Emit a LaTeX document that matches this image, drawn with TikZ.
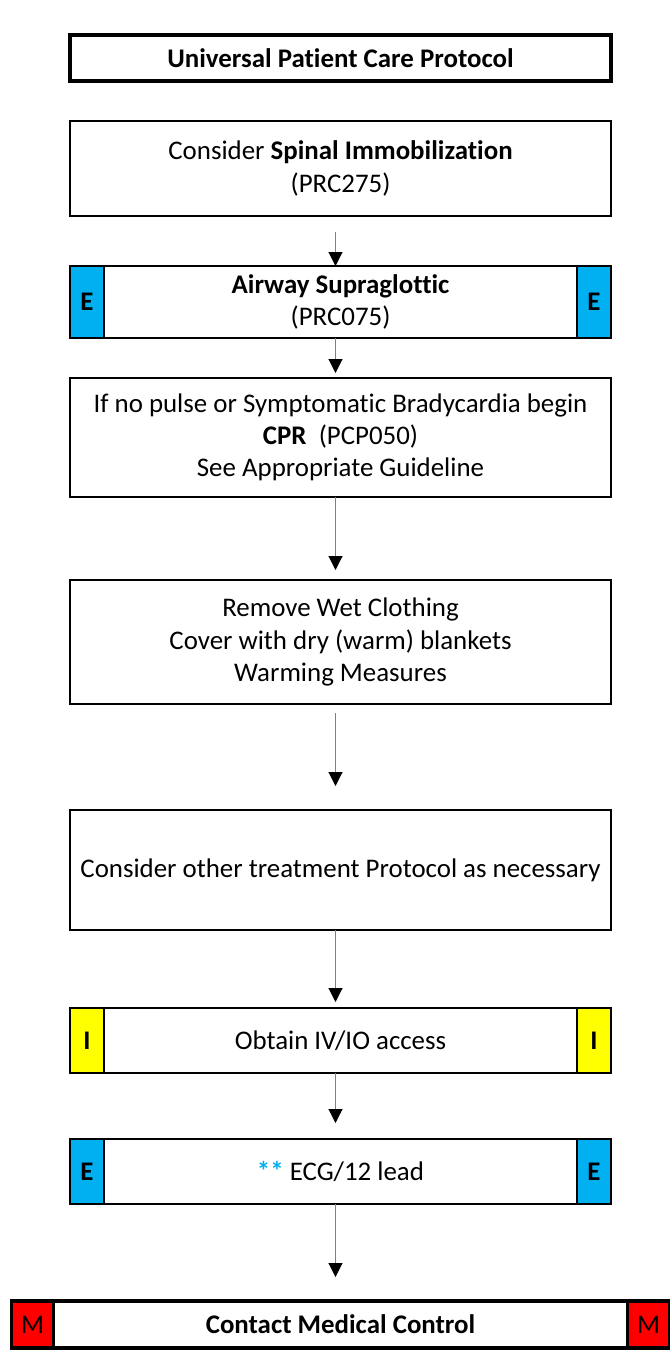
\documentclass[tikz,border=0pt]{standalone}
\usepackage{fontspec}
\setmainfont{Carlito}[Ligatures=NoCommon]
\usetikzlibrary{arrows.meta,positioning}
\definecolor{tabblue}{RGB}{0,176,240}
\definecolor{tabyellow}{RGB}{255,255,0}
\definecolor{tabred}{RGB}{255,0,0}
\definecolor{arrowgray}{RGB}{128,128,128}

\begin{document}
\begin{tikzpicture}[
  node distance=8mm,
  every node/.style={font=\fontsize{15.3}{18.3}\selectfont,align=center},
  stepbox/.style={draw,line width=1pt,outer sep=0pt,minimum width=108.2mm,inner sep=0pt},
  headbox/.style={stepbox,line width=2pt},
  tab/.style={draw,line width=1pt,outer sep=0pt,minimum width=6.8mm,inner sep=0pt,
    font=\fontsize{15.3}{18.3}\selectfont\bfseries},
  arrow/.style={-{Triangle[length=2.8mm,width=2.8mm,black]},arrowgray,line width=0.6pt}
]
  \useasboundingbox (0,0) rectangle (13.4,-27.04);

  \node[headbox,minimum height=9.2mm] (title) at (6.81,-1.16)
    {\bfseries Universal Patient Care Protocol};
  \node[stepbox,minimum height=19mm,below=8mm of title] (spinal)
    {Consider \textbf{Spinal Immobilization}\\(PRC275)};
  \node[stepbox,minimum height=14.4mm,below=10mm of spinal] (airway)
    {\textbf{Airway Supraglottic}\\(PRC075)};
  \node[stepbox,minimum height=23.8mm,below=8mm of airway] (cpr)
    {If no pulse or Symptomatic Bradycardia begin\\
     \textbf{CPR}\ \ (PCP050)\\See Appropriate Guideline};
  \node[stepbox,minimum height=24.8mm,below=16.6mm of cpr] (wet)
    {Remove Wet Clothing\\Cover with dry (warm) blankets\\Warming Measures};
  \node[stepbox,minimum height=24mm,below=21.2mm of wet] (other)
    {Consider other treatment Protocol as necessary};
  \node[stepbox,minimum height=13mm,below=15.6mm of other] (iv)
    {Obtain IV/IO access};
  \node[stepbox,minimum height=13mm,below=13.2mm of iv] (ecg)
    {{\bfseries\color{tabblue}**} ECG/12 lead};
  \node[headbox,minimum width=131.6mm,minimum height=9.4mm,below=19.4mm of ecg] (mmc)
    {\bfseries Contact Medical Control};

  % side tabs
  \node[tab,fill=tabblue,minimum height=14.4mm,anchor=west] (airwayl) at (airway.west) {E};
  \node[tab,fill=tabblue,minimum height=14.4mm,anchor=east] (airwayr) at (airway.east) {E};
  \node[tab,fill=tabyellow,minimum height=13mm,anchor=west] (ivl) at (iv.west) {I};
  \node[tab,fill=tabyellow,minimum height=13mm,anchor=east] (ivr) at (iv.east) {I};
  \node[tab,fill=tabblue,minimum height=13mm,anchor=west] (ecgl) at (ecg.west) {E};
  \node[tab,fill=tabblue,minimum height=13mm,anchor=east] (ecgr) at (ecg.east) {E};
  \node[tab,fill=tabred,line width=2pt,minimum width=8.4mm,minimum height=9.4mm,
    anchor=west,font=\fontsize{15.3}{18.3}\selectfont] (mmcl) at (mmc.west) {M};
  \node[tab,fill=tabred,line width=2pt,minimum width=8.4mm,minimum height=9.4mm,
    anchor=east,font=\fontsize{15.3}{18.3}\selectfont] (mmcr) at (mmc.east) {M};

  \draw[arrow,shorten <=3.2mm] ([xshift=-1mm]spinal.south) -- ([xshift=-1mm]airway.north);
  \draw[arrow,shorten >=1mm] ([xshift=-1mm]airway.south) -- ([xshift=-1mm]cpr.north);
  \draw[arrow,shorten >=2mm] ([xshift=-1mm]cpr.south) -- ([xshift=-1mm]wet.north);
  \draw[arrow,shorten <=1.8mm,shorten >=4.8mm] ([xshift=-1mm]wet.south) -- ([xshift=-1mm]other.north);
  \draw[arrow,shorten >=1.2mm] ([xshift=-1mm]other.south) -- ([xshift=-1mm]iv.north);
  \draw[arrow,shorten >=3.2mm] ([xshift=-1mm]iv.south) -- ([xshift=-1mm]ecg.north);
  \draw[arrow,shorten >=4.8mm] ([xshift=-1mm]ecg.south) -- ([xshift=-1mm]mmc.north);
\end{tikzpicture}
\end{document}
